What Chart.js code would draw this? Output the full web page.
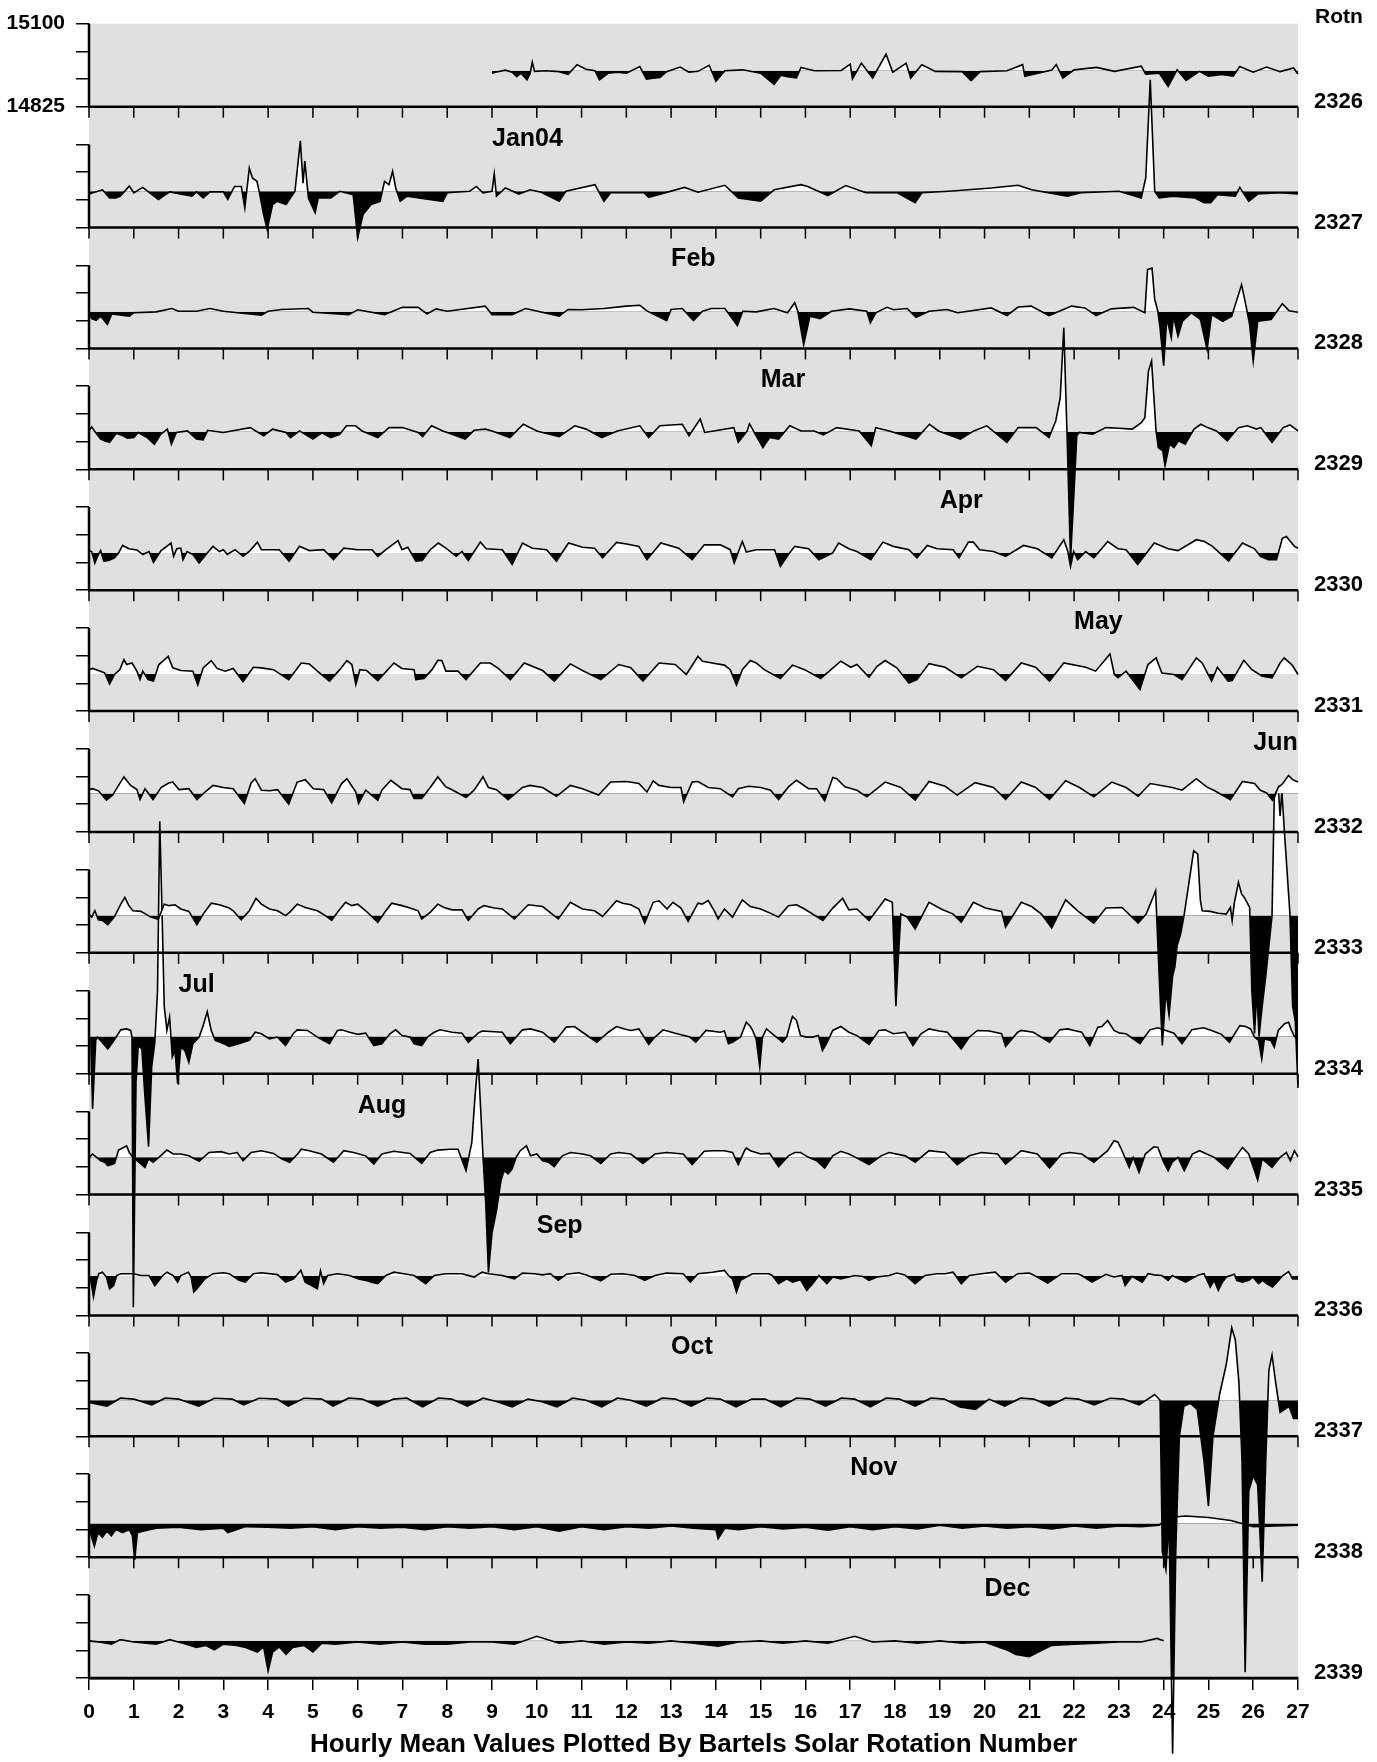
<!DOCTYPE html>
<html>
<head>
<meta charset="utf-8">
<script src="https://cdn.jsdelivr.net/npm/chart.js@4.4.0/dist/chart.umd.min.js"></script>
<style>
  html, body { margin: 0; padding: 0; background: #fff; }
  #wrap { width: 1377px; height: 1762px; }
</style>
</head>
<body>
<div id="wrap"><canvas id="chart1" width="1377" height="1762"></canvas></div>
<script>
// scale: top of plot and first row axis, rows are 400 nT apart
const TOP = 15100;
const FIRST_AXIS = 14825;
const ROW_STEP = 400;
const yLabels = [15100, 14825];
const rotations = [2326, 2327, 2328, 2329, 2330, 2331, 2332, 2333, 2334, 2335, 2336, 2337, 2338, 2339];
// level of the white/black fill line, nT above each row axis
const baseOffset = [119, 120, 121, 124, 123, 123, 127, 123, 123, 123, 130, 119, 111, 123];

const monthNames = ['Jan04', 'Feb', 'Mar', 'Apr', 'May', 'Jun', 'Jul', 'Aug', 'Sep', 'Oct', 'Nov', 'Dec'];
const monthStart = [9, 13, 15, 19, 22, 26, 2, 6, 10, 13, 17, 20];
const monthRot = [2326, 2327, 2328, 2329, 2330, 2331, 2333, 2334, 2335, 2336, 2337, 2338];

// hourly means: [day of rotation, nT from fill line]
const rot2326 = [[9.0,-8],[9.1,-4],[9.3,2],[9.45,-5],[9.55,-20],[9.65,-8],[9.78,-30],[9.85,-10],[9.9,28],[9.95,-2],[10.2,0],[10.5,-3],[10.7,-12],[10.9,20],[11.1,5],[11.3,0],[11.4,-30],[11.6,-8],[11.8,-5],[12.0,-8],[12.3,14],[12.45,-28],[12.6,-25],[12.75,-22],[12.9,-3],[13.2,12],[13.4,-5],[13.6,-2],[13.85,18],[14.0,-35],[14.2,0],[14.6,3],[15.0,-8],[15.3,-45],[15.45,-15],[15.6,-20],[15.8,-24],[15.9,11],[16.2,0],[16.8,1],[17.0,22],[17.05,-27],[17.25,25],[17.5,-24],[17.8,55],[17.95,-5],[18.25,25],[18.35,-24],[18.6,20],[18.9,-2],[19.5,-3],[19.7,-33],[19.9,-3],[20.5,0],[20.85,20],[20.9,-18],[21.5,2],[21.6,20],[21.75,-24],[22.0,3],[22.5,11],[22.9,-2],[23.5,15],[23.6,-11],[23.9,-8],[24.1,-52],[24.3,3],[24.5,-32],[24.8,-2],[25.0,-18],[25.3,-12],[25.55,-18],[25.7,14],[26.0,-5],[26.3,12],[26.6,-3],[26.9,9],[27.0,-11]];

const rot2327 = [[0,-9],[0.3,5],[0.46,-22],[0.6,-22],[0.7,-16],[0.9,17],[1.0,-5],[1.2,13],[1.55,-27],[1.8,-2],[2.3,-16],[2.4,-2],[2.55,-22],[2.7,-2],[3.0,-2],[3.1,-27],[3.25,16],[3.4,16],[3.48,-55],[3.58,77],[3.65,44],[3.75,33],[3.8,0],[3.9,-77],[3.98,-126],[4.1,-44],[4.2,-33],[4.4,-44],[4.6,0],[4.72,167],[4.78,27],[4.82,100],[4.9,-22],[5.05,-71],[5.12,-22],[5.4,-22],[5.6,0],[5.9,-11],[6.0,-154],[6.12,-77],[6.3,-44],[6.5,-33],[6.6,33],[6.7,22],[6.78,66],[6.85,11],[6.95,-33],[7.1,-16],[7.9,-33],[8.0,-5],[8.5,0],[8.65,16],[8.8,-5],[9.0,0],[9.05,57],[9.1,-16],[9.3,11],[9.6,-9],[9.85,5],[10.1,-3],[10.5,-33],[10.65,0],[11.3,22],[11.5,-33],[11.65,-5],[12.4,-5],[12.5,-20],[13.3,13],[13.6,-3],[14.2,20],[14.5,-22],[15.0,-33],[15.3,5],[15.9,22],[16.05,16],[16.5,-14],[16.9,19],[17.35,-5],[18.05,-5],[18.45,-38],[18.6,-5],[19.2,0],[20.15,11],[20.75,20],[21.05,5],[21.85,-16],[22.15,-5],[23.0,0],[23.5,-22],[23.6,44],[23.7,369],[23.8,0],[23.9,-22],[24.2,-16],[24.7,-22],[24.9,-38],[25.05,-38],[25.2,-11],[25.6,-16],[25.7,13],[25.9,-33],[26.1,-9],[26.6,-5],[27.0,-9]];

const rot2328 = [[0,-3],[0.06,-22],[0.16,-28],[0.26,-14],[0.41,-42],[0.51,-7],[0.9,-14],[1.0,-3],[1.5,0],[1.85,11],[2.0,2],[2.4,2],[2.7,11],[3.0,2],[3.85,-11],[4.0,2],[4.3,8],[4.9,11],[5.0,-1],[5.8,-9],[6.0,7],[6.6,-9],[7.0,15],[7.35,15],[7.55,-7],[7.75,10],[8.0,2],[8.85,19],[9.0,-9],[9.45,-9],[9.75,11],[10.5,-14],[10.7,8],[11.0,7],[11.5,11],[12.0,19],[12.3,22],[12.45,4],[12.9,-29],[13.0,8],[13.25,11],[13.5,-29],[13.7,2],[13.9,11],[14.2,11],[14.48,-45],[14.6,2],[14.9,0],[15.3,11],[15.6,-3],[15.76,30],[15.83,2],[15.96,-108],[16.1,-14],[16.33,-22],[16.58,2],[16.98,10],[17.37,2],[17.45,-36],[17.57,-3],[17.82,15],[17.97,7],[18.27,11],[18.47,-18],[18.76,2],[19.16,8],[19.4,-3],[20.15,13],[20.5,-12],[20.75,16],[21.04,19],[21.44,-12],[21.84,13],[21.94,19],[22.24,13],[22.49,-12],[22.83,10],[23.33,15],[23.58,-3],[23.64,140],[23.74,145],[23.8,41],[23.87,2],[23.92,-53],[24.0,-178],[24.07,-20],[24.17,-86],[24.22,-14],[24.32,-80],[24.42,-31],[24.62,-3],[24.82,-25],[24.97,-124],[25.07,-9],[25.32,-31],[25.52,-14],[25.6,24],[25.74,90],[25.84,19],[25.92,-42],[26.0,-163],[26.1,-31],[26.4,-25],[26.65,27],[26.8,4],[27.0,-1]];

const rot2329 = [[0,3],[0.06,16],[0.16,-5],[0.26,-24],[0.36,-30],[0.46,-35],[0.61,-5],[0.76,-13],[0.86,-21],[1.0,-19],[1.1,-2],[1.3,-19],[1.46,-41],[1.6,-8],[1.75,9],[1.84,-41],[1.95,-2],[2.2,3],[2.4,-24],[2.55,-27],[2.65,5],[3.0,-2],[3.6,14],[3.9,-13],[4.1,9],[4.4,-2],[4.5,-19],[4.7,3],[5.0,-24],[5.2,-3],[5.4,-19],[5.6,-8],[5.75,20],[5.95,20],[6.1,3],[6.45,-19],[6.7,14],[7.0,14],[7.35,-2],[7.45,-16],[7.65,20],[7.9,3],[8.0,-2],[8.4,-24],[8.6,5],[8.85,9],[9.0,3],[9.4,-19],[9.7,25],[10.0,3],[10.5,-16],[10.85,20],[11.1,9],[11.45,-19],[11.8,3],[12.3,20],[12.5,-19],[12.75,20],[13.25,25],[13.4,-13],[13.65,42],[13.75,-2],[13.95,3],[14.4,14],[14.5,-35],[14.7,3],[14.75,27],[14.9,-13],[15.05,-52],[15.2,-19],[15.4,-24],[15.65,20],[15.9,3],[16.2,3],[16.4,-10],[16.7,14],[17.2,3],[17.47,-46],[17.57,14],[17.87,3],[18.47,-24],[18.77,25],[18.97,3],[19.46,-24],[19.76,3],[20.05,20],[20.5,-35],[20.75,14],[21.15,14],[21.44,-19],[21.59,36],[21.69,113],[21.77,344],[21.84,3],[21.92,-420],[21.98,-250],[22.06,-13],[22.11,-2],[22.41,-8],[22.71,14],[23.0,12],[23.3,9],[23.5,30],[23.58,47],[23.66,201],[23.73,234],[23.83,3],[23.88,-52],[23.98,-63],[24.03,-112],[24.13,-41],[24.23,-52],[24.33,-30],[24.48,-41],[24.68,9],[24.83,25],[24.98,14],[25.18,3],[25.42,-30],[25.67,14],[25.87,20],[26.07,9],[26.17,14],[26.42,-35],[26.67,14],[26.82,23],[27.0,3]];

const rot2330 = [[0,8],[0.06,5],[0.13,-33],[0.21,-5],[0.26,8],[0.33,-27],[0.44,-25],[0.57,-16],[0.66,0],[0.75,25],[0.89,14],[1.07,10],[1.2,-5],[1.34,5],[1.44,-31],[1.61,8],[1.71,19],[1.83,33],[1.89,-11],[1.96,14],[2.05,16],[2.1,-22],[2.19,5],[2.32,-5],[2.46,-33],[2.64,0],[2.77,22],[2.91,5],[3.0,11],[3.09,-5],[3.26,11],[3.44,-11],[3.58,5],[3.76,36],[3.85,11],[4.03,11],[4.25,11],[4.47,-27],[4.7,22],[4.92,8],[5.24,11],[5.46,-22],[5.69,16],[6.0,11],[6.32,11],[6.45,-11],[6.63,11],[6.9,41],[6.99,11],[7.12,19],[7.3,-27],[7.44,-25],[7.62,11],[7.8,33],[7.97,16],[8.2,-11],[8.33,5],[8.47,-25],[8.74,36],[8.87,14],[9.23,11],[9.45,-38],[9.68,33],[9.9,16],[10.22,11],[10.44,-27],[10.71,33],[11.02,19],[11.29,16],[11.47,-16],[11.78,35],[12.01,30],[12.28,22],[12.46,-22],[12.77,33],[13.17,16],[13.47,-22],[13.74,27],[14.1,27],[14.32,11],[14.41,-33],[14.59,38],[14.68,3],[14.9,11],[15.31,11],[15.44,-44],[15.62,-5],[15.76,22],[16.07,14],[16.3,-22],[16.61,0],[16.74,33],[16.97,14],[17.15,5],[17.46,-22],[17.73,36],[17.96,22],[18.31,11],[18.49,-16],[18.72,25],[18.94,14],[19.3,11],[19.43,-16],[19.64,36],[19.75,36],[19.89,11],[20.2,5],[20.47,-11],[20.87,25],[21.18,14],[21.5,-16],[21.77,44],[21.86,5],[21.92,-44],[21.99,5],[22.08,-22],[22.26,5],[22.44,-16],[22.75,38],[22.98,14],[23.16,11],[23.42,-38],[23.79,33],[24.1,14],[24.32,8],[24.73,44],[24.91,38],[25.09,22],[25.45,-27],[25.76,33],[26.03,14],[26.16,-11],[26.34,-22],[26.52,-22],[26.65,49],[26.74,55],[26.92,22],[27.0,16]];

const rot2331 = [[0,14],[0.08,18],[0.21,11],[0.35,3],[0.46,-33],[0.57,-2],[0.69,14],[0.78,47],[0.84,31],[0.96,36],[1.07,9],[1.14,-19],[1.2,9],[1.32,-19],[1.44,-24],[1.56,31],[1.65,42],[1.77,58],[1.87,20],[2.05,11],[2.32,9],[2.43,-37],[2.55,20],[2.73,44],[2.86,18],[3.04,9],[3.22,18],[3.44,-26],[3.67,22],[3.85,20],[4.12,14],[4.46,-19],[4.74,36],[4.92,33],[5.1,9],[5.37,-24],[5.6,14],[5.76,44],[5.87,31],[5.96,-35],[6.05,14],[6.2,11],[6.45,-22],[6.81,36],[6.99,18],[7.26,14],[7.3,-19],[7.48,-15],[7.66,14],[7.79,45],[7.88,44],[7.97,9],[8.24,9],[8.42,-19],[8.74,36],[8.96,36],[9.14,18],[9.41,-19],[9.72,36],[10.13,11],[10.39,-24],[10.75,33],[11.02,11],[11.43,-19],[11.83,31],[12.1,20],[12.37,-24],[12.73,36],[13.09,31],[13.34,-2],[13.6,58],[13.7,42],[13.92,36],[14.19,29],[14.32,14],[14.46,-37],[14.59,14],[14.77,44],[14.9,36],[15.08,14],[15.44,-15],[15.71,29],[15.98,14],[16.34,-15],[16.79,42],[17.01,22],[17.15,31],[17.42,-11],[17.6,25],[17.78,44],[18.04,20],[18.31,-30],[18.49,-19],[18.76,34],[19.12,22],[19.48,-13],[19.84,25],[20.2,14],[20.47,-22],[20.82,36],[21.14,22],[21.45,-24],[21.77,36],[22.26,22],[22.48,9],[22.8,66],[22.9,-2],[22.98,-13],[23.16,9],[23.47,-52],[23.65,31],[23.83,53],[23.96,3],[24.23,-2],[24.41,-19],[24.73,53],[24.86,36],[25.07,-24],[25.2,22],[25.44,-24],[25.53,-22],[25.79,45],[25.97,14],[26.2,-8],[26.42,-13],[26.6,36],[26.69,53],[26.87,29],[27.0,-2]];

const rot2332 = [[0,13],[0.08,16],[0.21,9],[0.39,-22],[0.53,-5],[0.66,27],[0.78,55],[0.93,27],[1.07,13],[1.14,-20],[1.25,16],[1.43,-20],[1.61,20],[1.78,35],[1.87,38],[2.01,13],[2.23,16],[2.41,-20],[2.59,5],[2.77,27],[3.0,20],[3.22,16],[3.47,-33],[3.62,35],[3.71,49],[3.85,11],[4.03,9],[4.21,13],[4.46,-35],[4.65,38],[4.83,46],[5.01,16],[5.24,13],[5.42,-31],[5.64,33],[5.76,49],[5.96,5],[6.02,-33],[6.18,11],[6.45,-22],[6.54,11],[6.74,44],[6.99,16],[7.17,13],[7.26,-16],[7.43,-16],[7.62,20],[7.79,55],[7.97,22],[8.06,16],[8.2,5],[8.42,-13],[8.6,11],[8.8,55],[8.92,20],[9.1,13],[9.36,-20],[9.68,20],[9.85,27],[10.13,20],[10.44,-9],[10.75,27],[11.02,16],[11.38,-5],[11.65,38],[12.01,40],[12.28,33],[12.46,5],[12.6,42],[12.73,27],[13.0,20],[13.22,20],[13.28,-27],[13.47,38],[13.6,40],[13.83,20],[14.1,16],[14.37,-11],[14.5,16],[14.73,24],[15.0,20],[15.22,11],[15.4,-20],[15.62,22],[15.8,44],[16.07,16],[16.25,16],[16.43,-24],[16.61,53],[16.7,49],[16.88,22],[17.15,11],[17.37,-11],[17.78,38],[18.13,20],[18.45,-22],[18.76,40],[19.12,24],[19.39,-5],[19.79,36],[20.2,20],[20.47,-19],[20.82,38],[21.14,20],[21.45,-19],[21.81,42],[22.12,20],[22.44,-11],[22.84,38],[23.16,20],[23.43,-9],[23.7,33],[24.19,20],[24.41,11],[24.73,49],[24.96,22],[25.14,9],[25.49,-20],[25.76,40],[26.03,33],[26.16,11],[26.3,2],[26.43,-22],[26.56,20],[26.66,33],[26.79,60],[26.88,46],[27.0,38]];

const rot2333 = [[0,5],[0.06,-5],[0.13,16],[0.21,-14],[0.3,-16],[0.42,-30],[0.57,-3],[0.71,38],[0.8,60],[0.89,33],[0.98,16],[1.16,14],[1.38,-5],[1.52,-11],[1.55,-11],[1.68,38],[1.79,33],[1.92,36],[2.05,22],[2.23,14],[2.41,-30],[2.55,5],[2.73,41],[2.91,36],[3.13,25],[3.22,16],[3.4,-14],[3.58,16],[3.73,57],[3.85,38],[4.03,22],[4.21,16],[4.39,0],[4.48,11],[4.65,38],[4.83,27],[5.1,16],[5.28,0],[5.42,-16],[5.55,11],[5.73,44],[5.87,33],[6.0,38],[6.18,16],[6.45,-22],[6.63,16],[6.76,41],[6.99,33],[7.17,25],[7.35,16],[7.43,-11],[7.62,11],[7.79,38],[7.93,27],[8.11,19],[8.33,19],[8.47,-16],[8.69,22],[8.82,33],[9.05,25],[9.23,22],[9.5,-11],[9.81,36],[10.13,30],[10.48,-11],[10.75,44],[11.02,22],[11.29,16],[11.47,-3],[11.78,49],[11.92,41],[12.1,36],[12.28,22],[12.41,-25],[12.6,44],[12.73,49],[12.91,22],[13.04,44],[13.22,25],[13.38,-19],[13.6,41],[13.69,38],[13.83,50],[13.97,14],[14.05,-11],[14.19,22],[14.37,-5],[14.59,52],[14.77,30],[15.0,22],[15.26,5],[15.4,-5],[15.62,33],[15.8,36],[15.98,22],[16.39,-16],[16.61,25],[16.83,57],[16.97,19],[17.15,22],[17.42,-16],[17.78,55],[17.94,44],[18.02,-300],[18.07,-150],[18.13,5],[18.27,-5],[18.45,-44],[18.76,44],[19.03,22],[19.3,5],[19.48,-22],[19.75,44],[20.02,25],[20.38,14],[20.47,-38],[20.82,44],[21.05,30],[21.27,5],[21.5,-41],[21.81,52],[22.08,16],[22.44,-25],[22.71,25],[23.07,27],[23.43,-25],[23.61,5],[23.7,38],[23.76,60],[23.82,82],[23.9,-200],[23.97,-430],[24.05,-250],[24.12,-330],[24.2,-200],[24.25,-170],[24.3,-100],[24.38,-60],[24.46,5],[24.55,94],[24.67,215],[24.76,204],[24.82,50],[24.86,16],[25.04,14],[25.22,8],[25.4,5],[25.49,27],[25.53,-16],[25.58,44],[25.67,110],[25.74,72],[25.8,60],[25.92,27],[25.97,-250],[26.03,-390],[26.08,-250],[26.13,-400],[26.2,-300],[26.28,-200],[26.35,-100],[26.42,0],[26.47,390],[26.56,423],[26.6,330],[26.64,410],[26.7,270],[26.75,160],[26.82,5],[26.88,-300],[26.94,-350],[27.0,-570]];

const rot2334 = [[0,-2],[0.04,-8],[0.08,-240],[0.15,-13],[0.19,-2],[0.26,-13],[0.42,-41],[0.53,-19],[0.71,22],[0.84,25],[0.93,20],[0.96,-2],[0.99,-896],[1.05,-150],[1.1,-30],[1.18,-40],[1.25,-200],[1.33,-365],[1.4,-100],[1.47,-20],[1.53,150],[1.58,712],[1.63,420],[1.68,100],[1.74,20],[1.8,64],[1.86,-68],[1.92,-46],[1.98,-156],[2.05,-35],[2.14,-46],[2.23,-85],[2.32,-24],[2.46,-2],[2.55,36],[2.64,82],[2.73,20],[2.82,-13],[3.04,-26],[3.13,-33],[3.31,-26],[3.58,-13],[3.71,14],[3.85,9],[4.03,-8],[4.21,-2],[4.39,-30],[4.57,11],[4.65,22],[4.88,20],[5.1,-2],[5.37,-24],[5.55,20],[5.64,22],[5.82,14],[6.0,7],[6.18,11],[6.36,-30],[6.54,-24],[6.72,9],[6.85,22],[6.99,3],[7.17,-2],[7.26,-24],[7.43,-30],[7.57,0],[7.71,14],[7.84,22],[8.11,14],[8.33,11],[8.47,-19],[8.69,11],[8.78,18],[9.23,14],[9.41,-24],[9.68,22],[9.86,25],[10.13,14],[10.39,-19],[10.66,31],[10.84,33],[11.02,14],[11.34,-19],[11.6,14],[11.78,33],[11.96,25],[12.1,20],[12.28,25],[12.5,-26],[12.64,-2],[12.82,22],[13.09,11],[13.42,-2],[13.55,-19],[13.78,20],[14.1,14],[14.19,18],[14.28,-24],[14.37,-19],[14.55,-2],[14.68,47],[14.77,33],[14.82,20],[14.9,-8],[14.98,-101],[15.04,-2],[15.13,25],[15.35,-2],[15.49,-19],[15.58,-2],[15.67,47],[15.71,66],[15.8,53],[15.89,3],[16.02,-2],[16.16,-2],[16.29,3],[16.38,-46],[16.47,-24],[16.61,20],[16.79,33],[16.97,14],[17.15,3],[17.42,-26],[17.64,20],[17.78,22],[17.96,9],[18.23,14],[18.4,-30],[18.58,9],[18.76,25],[18.99,18],[19.17,14],[19.48,-41],[19.66,-2],[19.84,20],[20.11,18],[20.38,9],[20.47,-33],[20.74,14],[20.82,20],[21.09,14],[21.45,-19],[21.68,22],[21.86,25],[22.0,20],[22.17,14],[22.35,-30],[22.53,31],[22.62,33],[22.75,53],[22.89,20],[23.02,11],[23.16,9],[23.47,-24],[23.69,22],[23.87,29],[24.05,20],[24.23,11],[24.41,-24],[24.63,22],[24.89,29],[25.07,20],[25.29,7],[25.47,-19],[25.7,36],[25.83,33],[25.94,25],[26.03,-2],[26.12,-13],[26.19,-74],[26.25,-8],[26.39,-13],[26.47,-35],[26.56,20],[26.7,42],[26.79,47],[26.85,22],[26.92,0],[27.0,-10]];

const rot2335 = [[0,-5],[0.04,5],[0.08,11],[0.17,0],[0.26,-11],[0.35,-16],[0.42,-27],[0.51,-24],[0.57,-20],[0.66,24],[0.75,31],[0.84,38],[0.9,16],[0.97,2],[1.25,-33],[1.33,-5],[1.43,-16],[1.56,0],[1.74,24],[1.88,11],[2.05,11],[2.23,5],[2.46,-13],[2.68,16],[2.95,19],[3.13,11],[3.31,16],[3.44,-11],[3.62,16],[3.85,22],[4.12,13],[4.3,-5],[4.48,-16],[4.66,11],[4.74,27],[4.92,22],[5.19,11],[5.46,-16],[5.69,22],[5.91,16],[6.18,5],[6.36,-22],[6.54,11],[6.81,20],[7.17,13],[7.43,-20],[7.62,16],[7.79,24],[8.06,27],[8.24,27],[8.42,-44],[8.55,50],[8.62,200],[8.69,325],[8.75,150],[8.8,0],[8.86,-150],[8.92,-381],[9.0,-250],[9.1,-176],[9.2,-77],[9.27,-44],[9.36,-55],[9.45,-38],[9.54,0],[9.63,22],[9.77,38],[9.86,5],[10.0,11],[10.13,-11],[10.26,-16],[10.39,-31],[10.57,5],[10.75,16],[11.02,11],[11.2,5],[11.43,-20],[11.65,11],[11.83,16],[12.1,11],[12.37,-20],[12.64,11],[12.9,16],[13.27,11],[13.47,-24],[13.74,20],[13.92,22],[14.19,22],[14.37,16],[14.5,-24],[14.64,22],[14.68,31],[14.77,22],[15.0,11],[15.2,13],[15.4,-31],[15.62,5],[15.76,16],[15.89,16],[16.07,0],[16.25,-11],[16.43,-35],[16.61,5],[16.79,20],[16.97,11],[17.12,0],[17.42,-24],[17.69,5],[17.87,16],[18.23,5],[18.45,-16],[18.76,22],[19.12,16],[19.39,-24],[19.66,5],[19.93,16],[20.29,11],[20.47,-22],[20.82,22],[21.18,11],[21.45,-35],[21.72,11],[21.9,16],[22.17,11],[22.44,-16],[22.75,22],[22.89,55],[22.98,50],[23.07,22],[23.23,-33],[23.32,0],[23.45,-50],[23.59,11],[23.78,35],[23.87,33],[24.0,-16],[24.1,-44],[24.19,-16],[24.32,0],[24.46,-44],[24.64,11],[24.8,22],[24.96,11],[25.13,0],[25.43,-38],[25.6,0],[25.76,33],[25.9,11],[26.1,-75],[26.2,-5],[26.42,-33],[26.6,0],[26.74,16],[26.83,-11],[26.92,22],[27.0,2]];

const rot2336 = [[0,-3],[0.04,-14],[0.1,-69],[0.17,-14],[0.22,8],[0.3,13],[0.39,-3],[0.46,-42],[0.55,-31],[0.62,2],[0.71,8],[0.84,8],[1.0,8],[1.16,2],[1.34,2],[1.47,-31],[1.65,2],[1.74,13],[1.88,2],[1.98,-20],[2.05,2],[2.22,13],[2.28,-3],[2.34,-53],[2.41,-42],[2.5,-25],[2.59,-9],[2.77,8],[3.0,11],[3.13,8],[3.35,-14],[3.49,-20],[3.67,8],[3.85,11],[4.21,5],[4.39,-20],[4.57,-9],[4.73,19],[4.83,-20],[4.97,-31],[5.1,-42],[5.17,17],[5.24,-25],[5.33,2],[5.55,8],[5.82,2],[6.0,-9],[6.18,-14],[6.31,-20],[6.45,-25],[6.63,2],[6.81,13],[7.03,8],[7.26,2],[7.52,-25],[7.71,2],[7.97,8],[8.33,8],[8.6,-3],[8.78,13],[8.92,8],[9.23,2],[9.5,-9],[9.68,10],[9.95,8],[10.13,4],[10.3,8],[10.48,-14],[10.66,6],[10.93,11],[11.11,4],[11.43,-16],[11.65,6],[11.92,8],[12.19,2],[12.41,-14],[12.64,2],[12.9,10],[13.27,8],[13.43,-20],[13.6,8],[13.92,13],[14.19,19],[14.28,2],[14.37,-9],[14.46,-53],[14.55,-14],[14.68,-3],[14.82,8],[15.0,8],[15.18,8],[15.26,2],[15.4,-25],[15.58,-9],[15.71,-20],[15.89,-12],[16.03,-47],[16.16,-25],[16.3,2],[16.48,-25],[16.61,-3],[16.79,-9],[16.97,-3],[17.1,2],[17.28,-1],[17.42,-14],[17.6,-3],[17.87,2],[18.04,10],[18.22,4],[18.45,-25],[18.67,2],[18.94,8],[19.12,8],[19.3,13],[19.48,-25],[19.66,2],[19.93,8],[20.24,13],[20.47,-20],[20.74,8],[21.0,10],[21.09,4],[21.41,-23],[21.72,8],[22.08,8],[22.17,2],[22.4,-20],[22.71,6],[22.89,-3],[23.07,2],[23.14,-31],[23.29,-1],[23.52,-20],[23.65,8],[23.79,4],[23.96,2],[24.1,-14],[24.19,2],[24.49,-20],[24.78,4],[24.9,8],[25.04,-36],[25.13,-14],[25.22,-47],[25.31,-20],[25.4,-3],[25.58,6],[25.63,-14],[25.76,-20],[25.9,-14],[25.99,-3],[26.12,-25],[26.21,-14],[26.3,-25],[26.43,-36],[26.57,-14],[26.66,2],[26.79,15],[26.88,-9],[27.0,-9]];

const rot2337 = [[0,-7],[0.4,-19],[0.7,7],[1.0,4],[1.4,-15],[1.7,7],[2.0,4],[2.45,-19],[2.8,7],[3.2,4],[3.45,-15],[3.8,7],[4.2,4],[4.45,-19],[4.8,7],[5.2,4],[5.45,-19],[5.8,7],[6.1,4],[6.45,-19],[6.8,4],[7.1,7],[7.45,-22],[7.8,7],[8.1,4],[8.45,-19],[8.8,7],[9.1,-4],[9.45,-22],[9.8,4],[10.1,-4],[10.45,-22],[10.8,7],[11.1,0],[11.45,-22],[11.8,7],[12.1,0],[12.45,-19],[12.8,7],[13.1,4],[13.45,-19],[13.8,7],[14.1,4],[14.45,-22],[14.8,4],[15.1,4],[15.45,-22],[15.8,7],[16.1,4],[16.45,-19],[16.8,7],[17.1,4],[17.45,-22],[17.8,7],[18.1,4],[18.45,-19],[18.8,7],[19.1,4],[19.45,-22],[19.8,-30],[20.1,4],[20.45,-19],[20.8,7],[21.1,4],[21.45,-19],[21.8,7],[22.1,4],[22.45,-15],[22.8,7],[23.1,4],[23.45,-15],[23.8,19],[23.92,0],[23.97,-500],[24.05,-560],[24.12,-400],[24.2,-1170],[24.27,-500],[24.35,-120],[24.45,-20],[24.6,-10],[24.75,-30],[24.9,-200],[25.0,-350],[25.1,-120],[25.25,20],[25.4,120],[25.52,240],[25.6,200],[25.68,60],[25.75,-200],[25.82,-900],[25.9,-300],[26.0,-250],[26.1,-280],[26.2,-600],[26.28,-200],[26.35,100],[26.42,150],[26.5,60],[26.6,-40],[26.8,-20],[26.9,-60],[27.0,-60]];

const rot2338 = [[0,-10],[0.05,-40],[0.12,-75],[0.2,-30],[0.3,-45],[0.4,-25],[0.5,-40],[0.6,-20],[0.75,-30],[0.9,-20],[0.97,-40],[1.02,-120],[1.08,-30],[1.2,-25],[1.5,-15],[2.0,-12],[2.5,-20],[3.0,-15],[3.1,-30],[3.5,-10],[4.0,-12],[4.5,-15],[5.0,-10],[5.5,-20],[6.0,-10],[6.5,-15],[7.0,-12],[7.5,-20],[8.0,-10],[8.5,-15],[9.0,-10],[9.5,-20],[10.0,-10],[10.5,-25],[11.0,-10],[11.5,-20],[12.0,-10],[12.5,-15],[13.0,-8],[13.5,-15],[14.0,-20],[14.05,-50],[14.2,-15],[14.5,-20],[15.0,-10],[15.5,-18],[16.0,-12],[16.5,-22],[17.0,-10],[17.5,-20],[18.0,-10],[18.5,-18],[19.0,-5],[19.5,-15],[20.0,-8],[20.5,-15],[21.0,-10],[21.5,-18],[22.0,-8],[22.5,-15],[23.0,-8],[23.5,-10],[23.9,-5],[24.1,20],[24.5,25],[25.0,20],[25.5,10],[26.0,-10],[26.5,-8],[27.0,-5]];

const rot2339 = [[0,0],[0.3,-5],[0.5,-11],[0.7,4],[1.0,-4],[1.5,-11],[1.8,4],[2.1,-8],[2.4,-22],[2.6,-15],[2.8,-30],[3.0,-11],[3.3,-15],[3.5,-22],[3.76,-37],[3.9,-20],[4.0,-100],[4.1,-37],[4.25,-20],[4.4,-45],[4.55,-22],[4.8,-15],[5.0,-37],[5.2,-8],[5.5,-11],[6.0,-4],[6.5,-11],[7.0,-4],[7.5,-11],[8.0,-11],[8.5,-4],[9.0,-4],[9.5,-11],[10.0,15],[10.5,-8],[11.0,0],[11.5,-11],[12.0,-4],[12.5,-8],[13.0,0],[13.5,-8],[14.05,-18],[14.5,-4],[15.0,0],[15.5,-8],[16.0,0],[16.5,-8],[17.1,15],[17.5,-4],[18.0,0],[18.5,-8],[19.0,0],[19.5,-8],[20.0,-4],[20.5,-30],[20.7,-45],[21.0,-52],[21.2,-37],[21.5,-15],[22.0,-11],[22.5,-8],[23.0,-4],[23.5,-4],[23.85,8],[24.0,0]];

const series = [rot2326, rot2327, rot2328, rot2329, rot2330, rot2331, rot2332, rot2333, rot2334, rot2335, rot2336, rot2337, rot2338, rot2339];

const FONT = "'Liberation Sans', Arial, Helvetica, sans-serif";
const axisLevel = k => FIRST_AXIS - ROW_STEP * k;
const bottomLevel = axisLevel(rotations.length - 1);

// left tick marks: row axis plus three steps of 275/3 nT in every row
const leftTicks = [];
rotations.forEach((r, k) => {
  for (let i = 0; i < 4; i++) leftTicks.push(axisLevel(k) + i * (TOP - FIRST_AXIS) / 3);
});

const datasets = series.map((pts, k) => {
  const base = axisLevel(k) + baseOffset[k];
  return {
    label: String(rotations[k]),
    data: pts.map(p => ({ x: p[0], y: base + p[1] })),
    borderColor: '#000',
    borderWidth: 1.6,
    pointRadius: 0,
    tension: 0,
    clip: false,
    fill: { target: { value: base }, above: '#ffffff', below: '#000000' }
  };
});

const framePlugin = {
  id: 'bartelsFrame',
  beforeDraw(chart) {
    const { ctx, chartArea: a } = chart;
    ctx.save();
    ctx.fillStyle = '#e0e0e0';
    ctx.fillRect(a.left, a.top, a.right - a.left, a.bottom - a.top);
    ctx.restore();
  },
  afterDatasetsDraw(chart) {
    const { ctx, chartArea: a } = chart;
    const xs = chart.scales.x, ys = chart.scales.y;
    ctx.save();
    ctx.strokeStyle = '#000';
    rotations.forEach((r, k) => {
      const y = ys.getPixelForValue(axisLevel(k));
      // row axis line
      ctx.lineWidth = 2.5;
      ctx.beginPath();
      ctx.moveTo(a.left - 1, y);
      ctx.lineTo(a.right, y);
      ctx.stroke();
      // left axis segment of the row
      const yTop = ys.getPixelForValue(axisLevel(k) + (TOP - FIRST_AXIS));
      ctx.beginPath();
      ctx.moveTo(a.left, y);
      ctx.lineTo(a.left, yTop);
      ctx.stroke();
      // day ticks hanging under the row axis
      if (k < rotations.length - 1) {
        ctx.lineWidth = 1.5;
        for (let d = 0; d <= 27; d++) {
          const x = xs.getPixelForValue(d);
          ctx.beginPath();
          ctx.moveTo(x, y);
          ctx.lineTo(x, y + 11);
          ctx.stroke();
        }
      }
    });
    ctx.fillStyle = '#000';
    ctx.font = 'bold 25px ' + FONT;
    ctx.textAlign = 'left';
    ctx.textBaseline = 'middle';
    monthNames.forEach((m, i) => {
      const k = rotations.indexOf(monthRot[i]);
      ctx.fillText(m, xs.getPixelForValue(monthStart[i]), ys.getPixelForValue(axisLevel(k)) + 32);
    });
    ctx.font = 'bold 21px ' + FONT;
    ctx.fillText('Rotn', a.right + 17, 17);
    ctx.restore();
  }
};

const ctx = document.getElementById('chart1').getContext('2d');
new Chart(ctx, {
  type: 'line',
  data: { datasets: datasets },
  options: {
    responsive: false,
    animation: false,
    devicePixelRatio: 1,
    layout: { padding: { top: 16.7, left: 0, right: 0, bottom: 0 } },
    plugins: { legend: { display: false }, tooltip: { enabled: false } },
    scales: {
      x: {
        type: 'linear', min: 0, max: 27, position: 'bottom',
        afterFit: s => { s.height = 84; },
        ticks: { stepSize: 1, color: '#000', padding: 10, maxRotation: 0, autoSkip: false,
                 font: { family: FONT, size: 21, weight: 'bold' } },
        grid: { drawOnChartArea: false, drawTicks: true, tickLength: 12, color: '#000', lineWidth: 1.5 },
        border: { display: true, color: '#000', width: 2.5 },
        title: { display: true, text: 'Hourly Mean Values Plotted By Bartels Solar Rotation Number',
                 color: '#000', font: { family: FONT, size: 26, weight: 'bold' }, padding: { top: 0, bottom: 2 } }
      },
      y: {
        type: 'linear', min: bottomLevel, max: TOP, position: 'left',
        afterFit: s => { s.width = 89; },
        afterBuildTicks: s => { s.ticks = leftTicks.map(v => ({ value: v })); },
        ticks: { autoSkip: false, color: '#000', padding: 11,
                 font: { family: FONT, size: 21, weight: 'bold' },
                 callback: v => yLabels.includes(v) ? String(v) : '' },
        grid: { drawOnChartArea: false, drawTicks: true, tickLength: 13, color: '#000', lineWidth: 1.5 },
        border: { display: false }
      },
      y2: {
        type: 'linear', min: bottomLevel, max: TOP, position: 'right',
        afterFit: s => { s.width = 79; },
        afterBuildTicks: s => { s.ticks = rotations.map((r, k) => ({ value: axisLevel(k) })); },
        ticks: { autoSkip: false, color: '#000', padding: 8, labelOffset: -5,
                 font: { family: FONT, size: 22, weight: 'bold' },
                 callback: v => String(rotations[Math.round((FIRST_AXIS - v) / ROW_STEP)]) },
        grid: { display: false },
        border: { display: false }
      }
    }
  },
  plugins: [framePlugin]
});
</script>
</body>
</html>
